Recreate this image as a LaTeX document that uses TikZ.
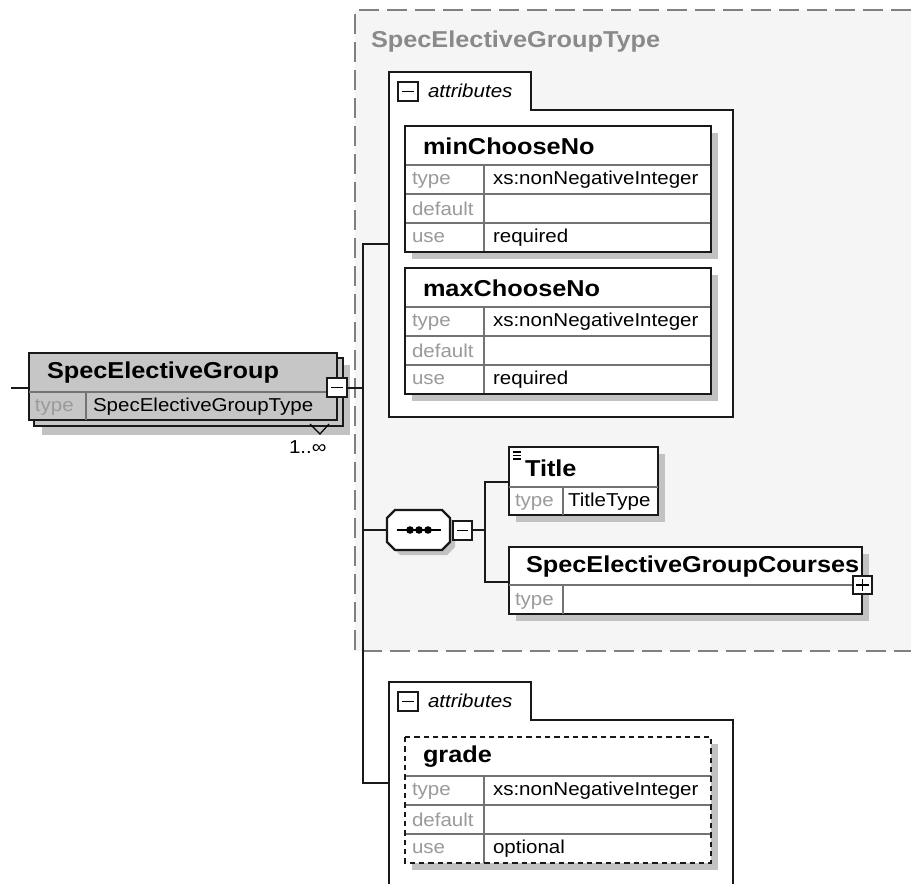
\documentclass[tikz,border=0pt]{standalone}
\usepackage{fontspec}
\setmainfont{Liberation Sans}
\newfontfamily\xsfont[FakeStretch=1.1]{Liberation Sans}
\usepackage{tikz}
\usetikzlibrary{positioning}
\definecolor{xsgray}{HTML}{8A8A8A}
\definecolor{xslabel}{HTML}{9A9A9A}
\definecolor{xsshadow}{HTML}{C2C2C2}
\definecolor{xsback}{HTML}{F5F5F5}
\definecolor{xselem}{HTML}{C6C6C6}
\tikzset{font=\xsfont}
\tikzset{every node/.append style={inner sep=0pt, outer sep=0pt}}
\tikzset{
  bx/.style={draw=black!90, line width=1.8pt},
  conn/.style={draw=black!90, line width=1.5pt},
  rowln/.style={draw=black!55, line width=0.8pt},
  tinybx/.style={draw=black!90, line width=1.1pt, fill=white},
  dashln/.style={draw=black!50, line width=0.9pt, dash pattern=on 15pt off 6pt},
  ttl/.style={anchor=west, font=\xsfont\bfseries\fontsize{17.25pt}{20pt}\selectfont},
  lbl/.style={anchor=west, font=\xsfont\fontsize{14pt}{16pt}\selectfont},
  lblg/.style={lbl, text=xslabel}
}
% attribute box: name, top-left, title, type, use, border style
\newcommand{\xsattr}[6]{%
  \begin{scope}[shift={(#2)}]
    \fill[xsshadow] (7,7) rectangle (313,133);
    \fill[white] (0,0) rectangle (306,126);
    \foreach \r in {39,68,97}
      \draw[rowln] (0,\r) -- (306,\r);
    \draw[rowln] (79,39) -- (79,126);
    \draw[bx,#6] (0,0) rectangle (306,126);
    \node[ttl] (#1) at (18,20) {#3};
    \node[lblg] (#1-t) at (7,54) {type};
    \node[lbl] (#1-tv) at (88,54) {#4};
    \node[lblg] (#1-d) at (7,83) {default};
    \node[lblg] (#1-u) at (7,112) {use};
    \node[lbl] (#1-uv) at (88,112) {#5};
  \end{scope}}
% attributes frame: name, top y, bottom y, connector y
\newcommand{\xsframe}[4]{%
  \draw[bx,fill=white] (389,#2) -- (531,#2) -- (531,{#2+38}) -- (733,{#2+38})
    -- (733,#3) -- (389,#3) -- cycle;
  \draw[tinybx] (398,{#2+10}) rectangle ++(20,19);
  \draw[line width=1.1pt] (402,{#2+19.5}) -- ++(12,0);
  \node[lbl,font=\xsfont\itshape\fontsize{14pt}{16pt}\selectfont] (#1-lbl) at (428,{#2+19}) {attributes};
  \coordinate (#1-in) at (389,#4);}

\begin{document}
\begin{tikzpicture}[x=0.75pt,y=-0.75pt]
\useasboundingbox (0,0) rectangle (911,884);

% complex type group
\fill[xsback] (355,10) rectangle (911,651);
\draw[dashln] (911,10) -- (355,10) -- (355,651) -- (911,651);
\node[ttl,text=xsgray] (grptype) at (371,42) {SpecElectiveGroupType};

\xsframe{attA}{72}{417}{244.5}
\xsattr{minno}{405,126}{minChooseNo}{xs:nonNegativeInteger}{required}{}
\xsattr{maxno}{405,268}{maxChooseNo}{xs:nonNegativeInteger}{required}{}

\xsframe{attB}{682}{895}{783}
\xsattr{grade}{405,737}{grade}{xs:nonNegativeInteger}{optional}{line width=1.4pt,dash pattern=on 4pt off 3pt}

% element SpecElectiveGroup (1..unbounded)
\fill[xsshadow] (42,365) rectangle (350,435);
\draw[bx,fill=xselem] (34,358) rectangle (343,426);
\draw[bx,fill=xselem] (29,353) rectangle (337,420);
\draw[rowln] (29,392) -- (337,392);
\draw[rowln] (86,392) -- (86,420);
\node[ttl] (seg) at (47,373) {SpecElectiveGroup};
\node[lblg] (seg-t) at (35,407) {type};
\node[lbl] (seg-tv) at (93,407) {SpecElectiveGroupType};
\draw[tinybx] (327,378) rectangle (347,397);
\draw[line width=1.1pt] (331,387.5) -- (343,387.5);
\draw[line width=0.9pt] (310,424) -- (320,434) -- (329,424);
\node[lbl] (seg-occ) at (289,447) {1..∞};
\coordinate (seg-in) at (11,388);
\coordinate (seg-w) at (29,388);
\coordinate (seg-out) at (347,388);

% sequence compositor
\fill[xsshadow] (400,515) -- (447,515) -- (455,523) -- (455,547) -- (447,555)
  -- (400,555) -- (392,547) -- (392,523) -- cycle;
\draw[bx,fill=white] (395,510) -- (442,510) -- (450,518) -- (450,542) -- (442,550)
  -- (395,550) -- (387,542) -- (387,518) -- cycle;
\draw[line width=1pt] (397,530) -- (441,530);
\foreach \d in {410,419,428}
  \fill (\d,530) circle (3.8);
\draw[tinybx] (453,521) rectangle (472,540);
\draw[line width=1.1pt] (457,530.5) -- (468,530.5);
\coordinate (seq-w) at (387,530);
\coordinate (seq-out) at (472,530);

% element Title
\fill[xsshadow] (516,454) rectangle (665,522);
\draw[bx,fill=white] (509,447) rectangle (658,515);
\draw[rowln] (509,487) -- (658,487);
\draw[rowln] (563,487) -- (563,515);
\foreach \l in {452,455.5,459}
  \draw[line width=0.8pt] (513,\l) -- (521,\l);
\node[ttl] (title) at (525,468) {Title};
\node[lblg] (title-t) at (515,502) {type};
\node[lbl] (title-tv) at (568,502) {TitleType};
\coordinate (title-w) at (509,482);

% element SpecElectiveGroupCourses
\fill[xsshadow] (516,554) rectangle (869,621);
\draw[bx,fill=white] (509,547) rectangle (862,614);
\draw[rowln] (509,585) -- (862,585);
\draw[rowln] (563,585) -- (563,614);
\node[ttl] (courses) at (526,567) {SpecElectiveGroupCourses};
\node[lblg] (courses-t) at (515,601) {type};
\draw[tinybx] (853,576) rectangle (872,594);
\draw[line width=1.1pt] (856,585) -- (869,585);
\draw[line width=1.1pt] (862.5,579) -- (862.5,591);
\coordinate (courses-w) at (509,582);

% connectors
\coordinate (busA) at (363,244.5);
\coordinate (busS) at (363,388);
\coordinate (busQ) at (363,530);
\coordinate (busB) at (363,783);
\coordinate (fork-t) at (485,482);
\coordinate (fork-m) at (485,530);
\coordinate (fork-b) at (485,582);
\draw[conn] (seg-in) -- (seg-w);
\draw[conn] (seg-out) -- (busS);
\draw[conn] (attA-in) -- (busA) -- (busB) -- (attB-in);
\draw[conn] (busQ) -- (seq-w);
\draw[conn] (seq-out) -- (fork-m);
\draw[conn] (title-w) -- (fork-t) -- (fork-b) -- (courses-w);
\end{tikzpicture}
\end{document}
